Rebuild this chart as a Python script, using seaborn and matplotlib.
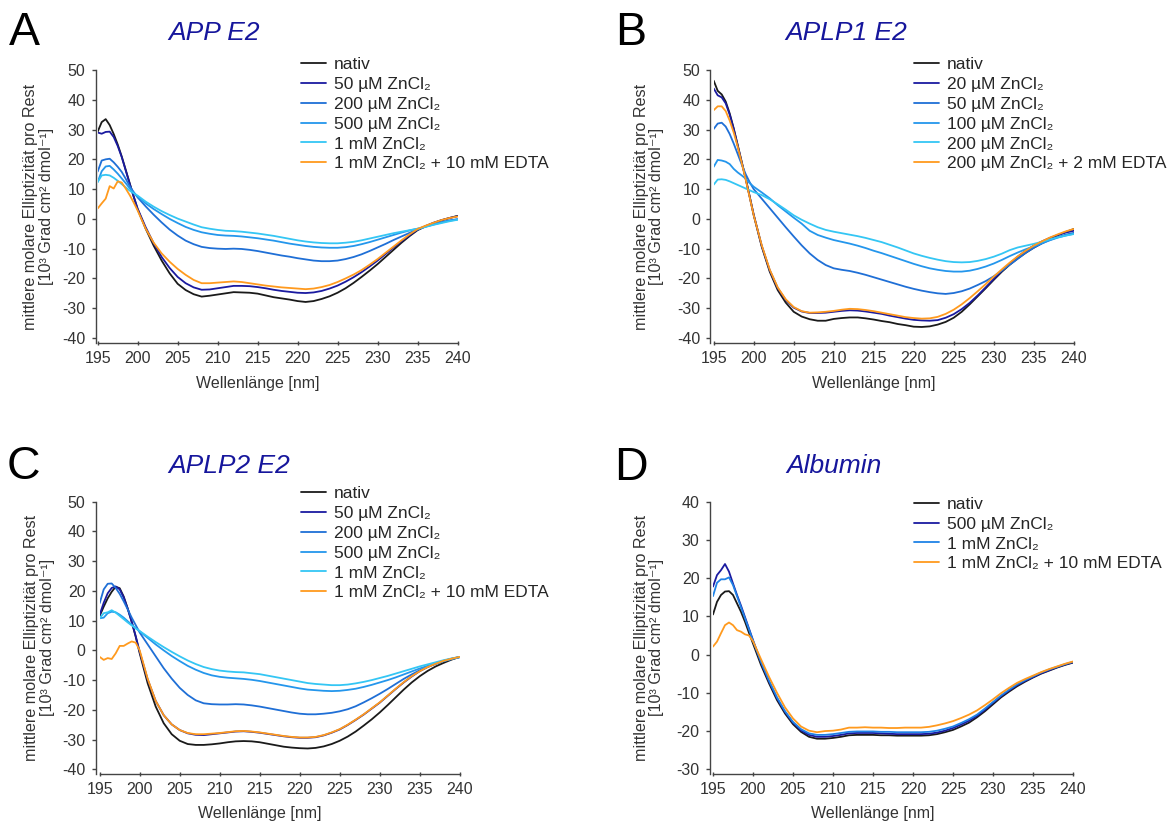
import matplotlib
matplotlib.use('Agg')
import matplotlib.pyplot as plt
import seaborn as sns

# wavelength grid [nm]
wavelength = [195, 195.5, 196, 196.5, 197, 197.5, 198, 198.5, 199, 199.5, 200,
              201, 202, 203, 204, 205, 206, 207, 208, 209, 210,
              211, 212, 213, 214, 215, 216, 217, 218, 219, 220,
              221, 222, 223, 224, 225, 226, 227, 228, 229, 230,
              231, 232, 233, 234, 235, 236, 237, 238, 239, 240]

# A: APP E2
app_nativ = [29.3, 32.5, 33.5, 31.5, 28.5, 25.0, 21.0, 16.5, 12.0, 7.5, 3.2,
             -3.3, -9.0, -14.0, -18.3, -21.8, -23.9, -25.3, -26.1, -25.8, -25.4,
             -25.0, -24.6, -24.7, -24.8, -25.1, -25.7, -26.3, -26.7, -27.1, -27.6,
             -27.9, -27.6, -26.9, -26.0, -24.8, -23.3, -21.5, -19.5, -17.4, -15.2,
             -12.8, -10.4, -8.0, -5.8, -3.8, -2.5, -1.4, -0.5, 0.3, 1.0]
app_50uM = [29.0, 28.6, 29.2, 29.3, 27.5, 24.5, 20.8, 16.3, 11.8, 7.5, 3.4,
            -2.8, -8.2, -12.8, -16.5, -19.5, -21.6, -23.0, -23.8, -23.7, -23.3,
            -22.9, -22.5, -22.5, -22.6, -22.9, -23.3, -23.8, -24.2, -24.5, -24.8,
            -24.9, -24.7, -24.2, -23.4, -22.4, -21.1, -19.6, -17.9, -16.0, -14.0,
            -11.8, -9.6, -7.5, -5.5, -3.6, -2.4, -1.3, -0.4, 0.3, 0.9]
app_200uM = [15.9, 19.6, 20.0, 20.2, 19.0, 17.5, 15.8, 13.5, 11.0, 9.0, 7.2,
             4.2, 1.4, -1.2, -3.6, -5.6, -7.3, -8.5, -9.4, -9.8, -10.0,
             -10.1, -10.0, -10.1, -10.4, -10.8, -11.3, -11.8, -12.3, -12.7, -13.2,
             -13.6, -14.0, -14.2, -14.2, -14.0, -13.5, -12.8, -11.9, -10.8, -9.6,
             -8.4, -7.1, -5.9, -4.7, -3.6, -2.6, -1.8, -1.1, -0.5, -0.1]
app_500uM = [12.4, 16.0, 17.6, 17.8, 16.6, 15.2, 13.6, 12.0, 10.3, 8.8, 7.5,
             5.2, 3.3, 1.6, 0.0, -1.4, -2.7, -3.7, -4.5, -5.0, -5.4,
             -5.6, -5.7, -5.9, -6.2, -6.5, -6.9, -7.3, -7.8, -8.3, -8.7,
             -9.1, -9.4, -9.6, -9.7, -9.7, -9.5, -9.1, -8.5, -7.8, -7.0,
             -6.2, -5.4, -4.6, -3.9, -3.3, -2.6, -1.9, -1.2, -0.6, -0.2]
app_1mM = [12.4, 14.6, 14.8, 14.6, 13.8, 12.8, 11.7, 10.6, 9.5, 8.6, 7.8,
           5.8, 4.1, 2.6, 1.3, 0.1, -0.9, -1.9, -2.8, -3.3, -3.7,
           -4.0, -4.1, -4.3, -4.6, -4.9, -5.3, -5.7, -6.2, -6.7, -7.2,
           -7.6, -7.9, -8.1, -8.2, -8.2, -8.0, -7.7, -7.2, -6.6, -6.0,
           -5.4, -4.8, -4.3, -3.8, -3.3, -2.7, -2.0, -1.4, -0.8, -0.3]
app_edta = [3.5, 5.2, 6.8, 11.0, 10.2, 12.6, 12.2, 10.2, 8.0, 5.5, 2.8,
            -3.3, -8.0, -11.6, -14.4, -16.8, -18.8, -20.5, -21.6, -21.6, -21.4,
            -21.2, -21.0, -21.2, -21.6, -22.0, -22.4, -22.7, -23.0, -23.2, -23.4,
            -23.6, -23.4, -22.9, -22.2, -21.2, -20.0, -18.7, -17.2, -15.4, -13.5,
            -11.4, -9.3, -7.2, -5.2, -3.4, -2.3, -1.3, -0.4, 0.3, 0.8]

# B: APLP1 E2
aplp1_nativ = [46.4, 43.0, 41.8, 39.4, 35.4, 30.4, 24.8, 19.2, 13.6, 7.5, 1.3,
               -9.3, -17.7, -23.9, -28.1, -31.2, -32.8, -33.7, -34.2, -34.2, -33.6,
               -33.3, -33.1, -33.1, -33.4, -33.8, -34.3, -34.7, -35.3, -35.7, -36.2,
               -36.3, -36.1, -35.5, -34.6, -33.2, -31.2, -28.7, -26.0, -23.3, -20.5,
               -17.8, -15.4, -13.3, -11.4, -9.7, -8.2, -6.8, -5.5, -4.4, -3.4]
aplp1_20uM = [43.8, 41.5, 40.8, 38.8, 35.0, 30.2, 24.6, 19.0, 13.4, 7.4, 1.4,
              -9.0, -17.2, -23.2, -27.2, -29.8, -31.1, -31.6, -31.6, -31.5, -31.2,
              -30.9, -30.7, -30.8, -31.1, -31.5, -31.9, -32.5, -33.0, -33.5, -33.9,
              -34.1, -34.2, -34.0, -33.2, -32.0, -30.3, -28.2, -25.7, -23.0, -20.2,
              -17.5, -15.0, -12.7, -10.7, -9.0, -7.6, -6.4, -5.4, -4.6, -4.0]
aplp1_50uM = [30.2, 32.0, 32.3, 31.0, 28.5, 25.3, 21.8, 18.3, 15.0, 12.3, 10.0,
              6.8, 3.6, 0.4, -2.8, -5.9, -8.9, -11.6, -13.8, -15.5, -16.6,
              -17.1, -17.5, -18.1, -18.8, -19.6, -20.4, -21.2, -22.0, -22.8, -23.5,
              -24.1, -24.6, -25.0, -25.2, -24.9, -24.3, -23.4, -22.2, -20.9, -19.3,
              -17.4, -15.4, -13.4, -11.4, -9.7, -8.3, -7.1, -6.1, -5.3, -4.7]
aplp1_100uM = [17.5, 19.8, 19.6, 19.2, 18.4, 16.8, 15.6, 14.6, 13.5, 12.0, 10.8,
               8.9, 6.9, 4.6, 2.5, 0.4, -1.6, -4.0, -5.4, -6.3, -7.1,
               -7.7, -8.3, -9.0, -9.8, -10.7, -11.5, -12.4, -13.3, -14.2, -15.1,
               -15.9, -16.6, -17.1, -17.5, -17.7, -17.7, -17.4, -16.8, -16.0, -15.0,
               -13.8, -12.5, -11.3, -10.2, -9.2, -8.2, -7.2, -6.3, -5.6, -5.0]
aplp1_200uM = [11.5, 13.2, 13.3, 13.1, 12.6, 12.0, 11.4, 10.8, 10.2, 9.6, 9.0,
               8.0, 6.6, 4.9, 3.1, 1.2, -0.3, -1.6, -2.8, -3.7, -4.3,
               -4.8, -5.3, -5.8, -6.4, -7.1, -7.8, -8.7, -9.6, -10.6, -11.6,
               -12.4, -13.1, -13.7, -14.2, -14.5, -14.6, -14.5, -14.1, -13.5, -12.7,
               -11.7, -10.5, -9.6, -9.0, -8.4, -7.7, -6.9, -6.2, -5.6, -5.1]
aplp1_edta = [36.5, 37.8, 37.8, 36.2, 33.0, 29.0, 24.2, 18.8, 13.2, 7.2, 1.2,
              -8.8, -17.0, -23.0, -27.0, -29.6, -31.0, -31.5, -31.4, -31.2, -30.9,
              -30.5, -30.2, -30.3, -30.6, -31.0, -31.5, -32.0, -32.5, -33.0, -33.3,
              -33.5, -33.4, -32.9, -31.9, -30.5, -28.7, -26.6, -24.3, -21.9, -19.4,
              -17.0, -14.7, -12.6, -10.7, -9.0, -7.6, -6.3, -5.2, -4.2, -3.4]

# C: APLP2 E2
aplp2_nativ = [11.6, 14.7, 17.5, 19.7, 21.4, 20.9, 18.1, 14.1, 9.6, 4.6, -1.0,
               -11.1, -18.9, -24.5, -28.2, -30.4, -31.5, -31.8, -31.8, -31.6, -31.3,
               -30.9, -30.6, -30.5, -30.6, -30.9, -31.4, -31.9, -32.4, -32.7, -32.9,
               -33.0, -32.8, -32.3, -31.5, -30.4, -29.0, -27.3, -25.3, -23.2, -20.9,
               -18.4, -15.8, -13.2, -10.8, -8.7, -6.9, -5.4, -4.2, -3.1, -2.2]
aplp2_50uM = [12.0, 16.0, 19.2, 21.0, 21.5, 20.5, 17.8, 14.0, 9.6, 4.8, -0.5,
              -9.8, -17.0, -21.8, -24.9, -26.8, -27.9, -28.4, -28.5, -28.2, -27.9,
              -27.6, -27.3, -27.2, -27.4, -27.7, -28.1, -28.5, -28.9, -29.2, -29.4,
              -29.4, -29.2, -28.6, -27.7, -26.6, -25.1, -23.4, -21.6, -19.6, -17.6,
              -15.3, -13.0, -10.8, -8.8, -7.0, -5.6, -4.5, -3.5, -2.8, -2.2]
aplp2_200uM = [15.9, 20.5, 22.4, 22.5, 21.0, 19.0, 16.5, 13.8, 11.0, 8.5, 6.0,
               2.0, -2.0, -6.0, -9.5, -12.6, -15.0, -16.8, -17.8, -18.1, -18.2,
               -18.2, -18.1, -18.2, -18.5, -18.9, -19.4, -19.9, -20.4, -20.9, -21.3,
               -21.5, -21.5, -21.3, -21.0, -20.5, -19.8, -18.8, -17.5, -16.1, -14.6,
               -13.0, -11.3, -9.6, -8.1, -6.7, -5.5, -4.5, -3.6, -2.9, -2.3]
aplp2_500uM = [10.8, 11.0, 12.5, 13.0, 12.8, 12.0, 11.0, 9.8, 8.6, 7.5, 6.4,
               4.2, 2.0, 0.0, -1.9, -3.6, -5.2, -6.5, -7.6, -8.4, -8.9,
               -9.2, -9.4, -9.6, -9.9, -10.3, -10.8, -11.3, -11.8, -12.3, -12.8,
               -13.2, -13.4, -13.6, -13.7, -13.6, -13.3, -12.9, -12.3, -11.6, -10.8,
               -10.0, -9.1, -8.1, -7.1, -6.1, -5.2, -4.4, -3.6, -2.9, -2.3]
aplp2_1mM = [10.8, 12.5, 12.8, 13.5, 12.7, 11.6, 10.5, 9.4, 8.4, 7.4, 6.5,
             4.6, 2.8, 1.1, -0.5, -2.0, -3.4, -4.6, -5.6, -6.3, -6.8,
             -7.1, -7.3, -7.4, -7.7, -8.0, -8.5, -9.0, -9.5, -10.0, -10.5,
             -11.0, -11.3, -11.5, -11.7, -11.7, -11.5, -11.1, -10.6, -10.0, -9.3,
             -8.6, -7.8, -7.0, -6.2, -5.4, -4.7, -4.0, -3.3, -2.7, -2.2]
aplp2_edta = [-2.2, -3.2, -2.6, -2.9, -1.0, 1.5, 1.5, 2.3, 3.0, 2.6, 0.0,
              -9.6, -17.0, -21.8, -24.9, -26.8, -27.8, -28.2, -28.2, -28.0, -27.8,
              -27.5, -27.2, -27.1, -27.3, -27.6, -28.0, -28.4, -28.8, -29.1, -29.3,
              -29.3, -29.1, -28.5, -27.6, -26.5, -25.0, -23.3, -21.5, -19.5, -17.5,
              -15.2, -12.9, -10.7, -8.7, -7.0, -5.6, -4.5, -3.5, -2.8, -2.2]

# D: Albumin
alb_nativ = [10.5, 13.8, 15.6, 16.5, 16.6, 15.6, 13.4, 11.2, 8.6, 5.7, 2.9,
             -2.7, -7.5, -11.9, -15.4, -18.2, -20.2, -21.5, -22.0, -22.0, -21.8,
             -21.5, -21.1, -21.0, -21.0, -21.0, -21.1, -21.1, -21.2, -21.2, -21.2,
             -21.2, -21.1, -20.8, -20.3, -19.7, -18.8, -17.8, -16.4, -14.8, -13.0,
             -11.2, -9.7, -8.3, -7.1, -6.0, -5.0, -4.2, -3.4, -2.7, -2.1]
alb_500uM = [17.8, 20.8, 22.1, 23.7, 21.7, 18.6, 15.6, 12.8, 9.8, 6.8, 3.8,
             -2.0, -7.0, -11.4, -15.0, -17.8, -19.8, -21.0, -21.5, -21.5, -21.3,
             -21.0, -20.6, -20.5, -20.5, -20.5, -20.6, -20.7, -20.8, -20.8, -20.8,
             -20.8, -20.7, -20.4, -19.9, -19.2, -18.3, -17.3, -16.0, -14.4, -12.6,
             -10.9, -9.4, -8.0, -6.9, -5.9, -4.9, -4.1, -3.3, -2.6, -2.0]
alb_1mM = [15.3, 18.8, 19.7, 19.7, 20.2, 18.2, 15.3, 12.4, 9.5, 6.6, 3.6,
           -1.9, -6.8, -11.2, -14.8, -17.6, -19.5, -20.6, -21.0, -21.0, -20.8,
           -20.5, -20.2, -20.1, -20.1, -20.1, -20.2, -20.2, -20.3, -20.3, -20.3,
           -20.3, -20.2, -19.9, -19.4, -18.8, -17.9, -16.9, -15.7, -14.1, -12.4,
           -10.7, -9.2, -7.8, -6.7, -5.7, -4.7, -3.9, -3.2, -2.5, -1.9]
alb_edta = [2.1, 3.4, 5.6, 7.7, 8.4, 7.7, 6.4, 6.0, 5.3, 5.0, 3.5,
            -1.2, -5.8, -10.0, -13.8, -16.7, -18.8, -19.9, -20.3, -20.0, -19.9,
            -19.6, -19.1, -19.1, -19.0, -19.1, -19.1, -19.2, -19.2, -19.1, -19.1,
            -19.1, -18.9, -18.5, -18.0, -17.4, -16.6, -15.7, -14.6, -13.2, -11.7,
            -10.1, -8.7, -7.4, -6.4, -5.5, -4.6, -3.8, -3.1, -2.4, -1.8]

# legend labels
labels_app = ['nativ', '50 µM ZnCl₂', '200 µM ZnCl₂', '500 µM ZnCl₂', '1 mM ZnCl₂',
              '1 mM ZnCl₂ + 10 mM EDTA']
labels_aplp1 = ['nativ', '20 µM ZnCl₂', '50 µM ZnCl₂', '100 µM ZnCl₂', '200 µM ZnCl₂',
                '200 µM ZnCl₂ + 2 mM EDTA']
labels_alb = ['nativ', '500 µM ZnCl₂', '1 mM ZnCl₂', '1 mM ZnCl₂ + 10 mM EDTA']

c_black = '#1a1a1a'
c_navy = '#1a1aa0'
c_mid = '#1f6fd6'
c_blue = '#2496ec'
c_cyan = '#34c6f4'
c_orange = '#ff9a1e'
six_colors = [c_black, c_navy, c_mid, c_blue, c_cyan, c_orange]

sns.set_theme(style='white')
plt.rcParams['font.family'] = ['Liberation Sans', 'DejaVu Sans']
plt.rcParams['axes.unicode_minus'] = False

W, H = 1175, 827
fig = plt.figure(figsize=(W / 100, H / 100), dpi=100)


def px(x, y):
    return x / W, 1 - y / H


def draw_panel(rect, series, labels, colors, ylim, yticks, spine_off, ylab_x, leg_xy):
    ax = fig.add_axes(rect)
    for vals, lab, col in zip(series, labels, colors):
        sns.lineplot(x=wavelength, y=vals, ax=ax, color=col, label=lab, linewidth=1.3)
    ax.set_xlim(195, 240)
    ax.set_ylim(*ylim)
    ax.set_xticks(range(195, 241, 5))
    ax.set_yticks(yticks)
    for s in ['top', 'right']:
        ax.spines[s].set_visible(False)
    for s in ['left', 'bottom']:
        ax.spines[s].set_color('#444444')
        ax.spines[s].set_linewidth(1.0)
    ax.spines['left'].set_position(('outward', spine_off))
    ax.tick_params(axis='x', bottom=True, direction='inout', length=3.5, width=1,
                   color='#444444', pad=4.0, labelsize=11.5, labelcolor='#333333')
    ax.tick_params(axis='y', left=True, direction='out', length=3, width=1,
                   color='#444444', pad=4.4, labelsize=11.5, labelcolor='#333333')
    ax.set_xlabel('Wellenlänge [nm]', fontsize=11.5, color='#333333', va='center')
    ax.xaxis.set_label_coords(0.4436, -0.146)
    ax.set_ylabel('mittlere molare Elliptizität pro Rest\n[10³ Grad cm² dmol⁻¹]',
                  fontsize=11.6, color='#333333', linespacing=1.05)
    ax.yaxis.set_label_coords(ylab_x, 0.5)
    ax.legend(loc='upper left', bbox_to_anchor=px(*leg_xy), bbox_transform=fig.transFigure,
              frameon=False, borderpad=0, borderaxespad=0, handlelength=1.45,
              handletextpad=0.45, labelspacing=0.27, fontsize=12.5)
    return ax


draw_panel([97.7 / W, 0.58489, 359.8 / W, 0.33047],
           [app_nativ, app_50uM, app_200uM, app_500uM, app_1mM, app_edta],
           labels_app, six_colors, (-41.78, 50), range(-40, 51, 10), 1.5, -0.122,
           (301, 57.0))
draw_panel([713.7 / W, 0.58489, 360 / W, 0.33047],
           [aplp1_nativ, aplp1_20uM, aplp1_50uM, aplp1_100uM, aplp1_200uM, aplp1_edta],
           labels_aplp1, six_colors, (-41.78, 50), range(-40, 51, 10), 2.4, -0.137,
           (914.3, 57.0))
draw_panel([99.7 / W, 0.06409, 360 / W, 0.32926],
           [aplp2_nativ, aplp2_50uM, aplp2_200uM, aplp2_500uM, aplp2_1mM, aplp2_edta],
           labels_app, six_colors, (-41.58, 50), range(-40, 51, 10), 2.9, -0.124,
           (301.3, 486.0))
draw_panel([713 / W, 0.06409, 360 / W, 0.32926],
           [alb_nativ, alb_500uM, alb_1mM, alb_edta],
           labels_alb, [c_black, c_navy, '#1f82e6', c_orange], (-31.23, 40),
           range(-30, 41, 10), 2.4, -0.135, (914, 496.7))

# panel titles and letters
title_col = '#16169c'
for (x, y), t in zip([(214.5, 40), (846, 40), (229.6, 473.3), (833.7, 472.7)],
                     ['APP E2', 'APLP1 E2', 'APLP2 E2', 'Albumin']):
    fig.text(*px(x, y), t, ha='center', va='baseline', fontsize=19, style='italic',
             color=title_col)
for (x, y), t in zip([(9.4, 45), (614.8, 45), (7.1, 479.5), (614.5, 480)],
                     ['A', 'B', 'C', 'D']):
    fig.text(*px(x, y), t, ha='left', va='baseline', fontsize=33.5, color='black')

fig.savefig('out.png', dpi=100)
